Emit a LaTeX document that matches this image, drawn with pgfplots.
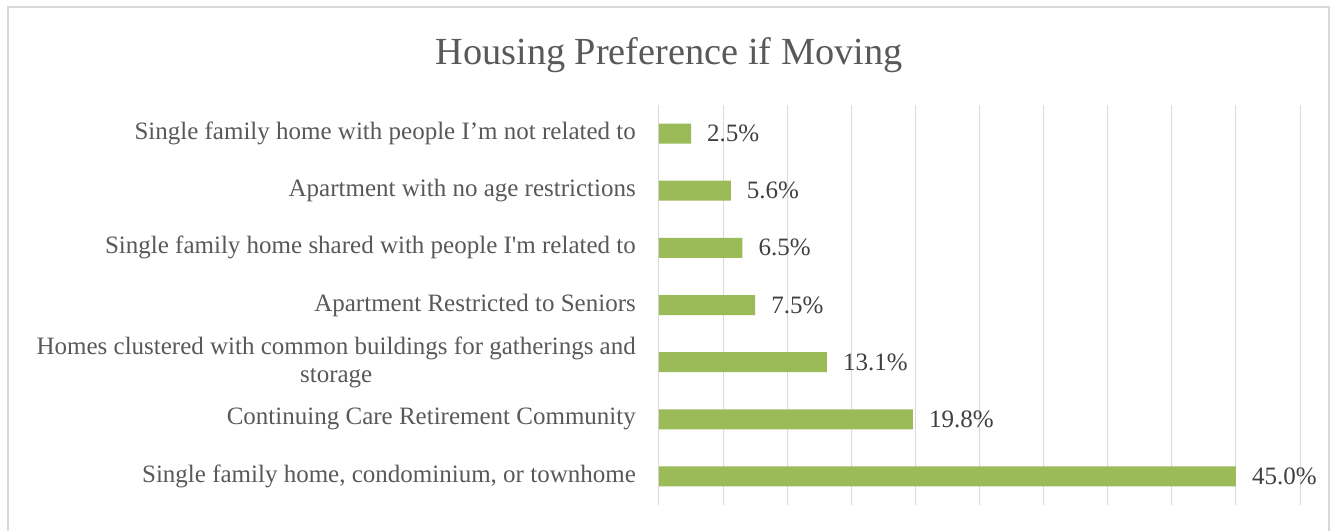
\documentclass[border=0pt]{standalone}
\usepackage{pgfplots}
\pgfplotsset{compat=1.18}
\usepackage{fontspec}
\setmainfont{Liberation Serif}
\definecolor{bargreen}{HTML}{9BBB59}
\definecolor{labgray}{HTML}{595959}
\definecolor{datgray}{HTML}{404040}
\definecolor{gridgray}{HTML}{D9D9D9}
\begin{document}
\begin{tikzpicture}[x=1pt,y=1pt]
\path[use as bounding box, fill=white] (0,0) rectangle (1336,531);
\draw[gridgray, line width=1.5pt] (8,0) -- (8,524) -- (1329,524) -- (1329,0);
\node[labgray, font=\fontsize{38.3}{45}\selectfont, anchor=base] at (669,466) {Housing Preference if Moving};
\begin{axis}[
  at={(659pt,26pt)}, anchor=south west,
  scale only axis, width=641pt, height=400pt,
  xmin=0, xmax=50, ymin=-0.5, ymax=6.5,
  xbar, bar width=20pt,
  axis line style={draw=none},
  xtick={0,5,...,50}, xticklabels={},
  xmajorgrids, grid style={gridgray, line width=1pt},
  major tick length=0pt,
  ytick={0,...,6},
  yticklabels={
    {Single family home, condominium, or townhome},
    {Continuing Care Retirement Community},
    {Homes clustered with common buildings for gatherings and\\storage},
    {Apartment Restricted to Seniors},
    {Single family home shared with people I\textquotesingle m related to},
    {Apartment with no age restrictions},
    {Single family home with people I’m not related to}},
  yticklabel style={labgray, font=\fontsize{25}{28}\selectfont, align=center, inner sep=0pt, xshift=-23pt},
  clip=false,
  /pgf/number format/assume math mode=true,
  nodes near coords={\pgfmathprintnumber[fixed,fixed zerofill,precision=1,assume math mode=true]{\pgfplotspointmeta}\%},
  nodes near coords style={datgray, font=\fontsize{25}{28}\selectfont, inner sep=0pt, xshift=16pt, anchor=west},
]
\addplot[fill=bargreen, draw=none] coordinates {(45.0,0) (19.8,1) (13.1,2) (7.5,3) (6.5,4) (5.6,5) (2.5,6)};
\end{axis}
\end{tikzpicture}
\end{document}
